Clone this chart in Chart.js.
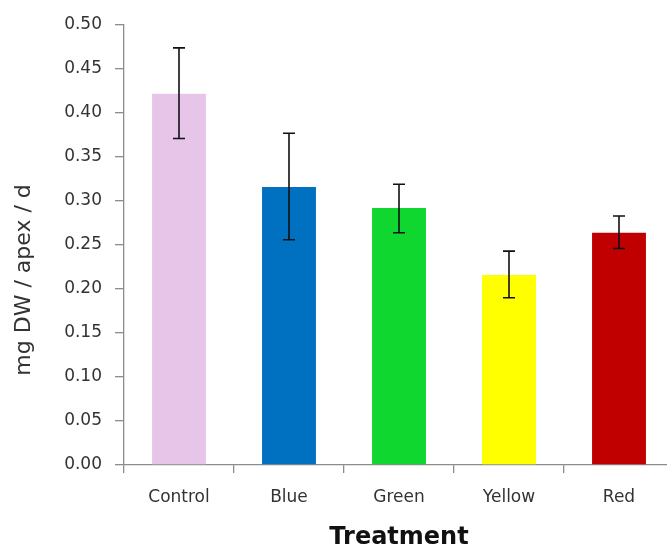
<!DOCTYPE html>
<html>
<head>
<meta charset="utf-8">
<script src="https://cdn.jsdelivr.net/npm/chart.js@4"></script>
<style>
  html, body { margin: 0; padding: 0; background: #fff; overflow: hidden; }
  #wrap { width: 690px; height: 550px; }
</style>
</head>
<body>
<div id="wrap"><canvas id="chart" width="690" height="550"></canvas></div>
<script>
const treatments = ['Control', 'Blue', 'Green', 'Yellow', 'Red']
const rates = [0.422, 0.316, 0.292, 0.216, 0.264]
const errHigh = [0.474, 0.377, 0.319, 0.243, 0.283]
const errLow = [0.371, 0.256, 0.264, 0.190, 0.246]
const barColors = ['#E7C5E9', '#0070C0', '#0FD72F', '#FFFF00', '#C00000']

const axisGrey = '#8c8c8c'

// whiskers drawn on top of the bars, positioned by the value scale
const errorBars = {
  id: 'errorBars',
  afterDatasetsDraw(chart) {
    const ctx = chart.ctx
    const yScale = chart.scales.y
    const bars = chart.getDatasetMeta(0).data
    ctx.save()
    ctx.strokeStyle = '#111'
    ctx.lineWidth = 1.6
    bars.forEach((bar, i) => {
      const x = bar.x
      const yTop = yScale.getPixelForValue(errHigh[i])
      const yBot = yScale.getPixelForValue(errLow[i])
      ctx.beginPath()
      ctx.moveTo(x, yTop)
      ctx.lineTo(x, yBot)
      ctx.moveTo(x - 6, yTop)
      ctx.lineTo(x + 6, yTop)
      ctx.moveTo(x - 6, yBot)
      ctx.lineTo(x + 6, yBot)
      ctx.stroke()
    })
    ctx.restore()
  },
}

new Chart(document.getElementById('chart').getContext('2d'), {
  type: 'bar',
  data: {
    labels: treatments,
    datasets: [
      {
        label: 'Rate',
        data: rates,
        backgroundColor: barColors,
        borderWidth: 0,
        categoryPercentage: 1,
        barPercentage: 0.49,
      },
    ],
  },
  options: {
    responsive: false,
    animation: false,
    layout: { padding: { top: 25, right: 16, bottom: 0, left: 0 } },
    plugins: {
      legend: { display: false },
      tooltip: { enabled: false },
    },
    scales: {
      x: {
        afterFit: (scale) => { scale.height = 85 },
        border: { color: axisGrey, width: 1.3 },
        grid: { drawOnChartArea: false, color: axisGrey, tickLength: 8, lineWidth: 1.3 },
        ticks: {
          color: '#333',
          padding: 14,
          font: { family: 'DejaVu Sans', size: 17 },
        },
        title: {
          display: true,
          text: 'Treatment',
          color: '#111',
          padding: { top: 0, bottom: 0 },
          font: { family: 'DejaVu Sans', size: 24, weight: 'bold', lineHeight: 1.0 },
        },
      },
      y: {
        min: 0,
        max: 0.5,
        afterFit: (scale) => { scale.width = 124 },
        border: { color: axisGrey, width: 1.3 },
        grid: { drawOnChartArea: false, color: axisGrey, tickLength: 9, lineWidth: 1.3 },
        ticks: {
          stepSize: 0.05,
          color: '#333',
          padding: 13,
          font: { family: 'DejaVu Sans', size: 17 },
          callback: (v) => v.toFixed(2),
        },
        title: {
          display: true,
          // trailing spaces push the visible title down, as in the original
          text: 'mg DW / apex / d          ',
          color: '#333',
          padding: { top: 11, bottom: 0 },
          font: { family: 'DejaVu Sans', size: 22 },
        },
      },
    },
  },
  plugins: [errorBars],
})
</script>
</body>
</html>
